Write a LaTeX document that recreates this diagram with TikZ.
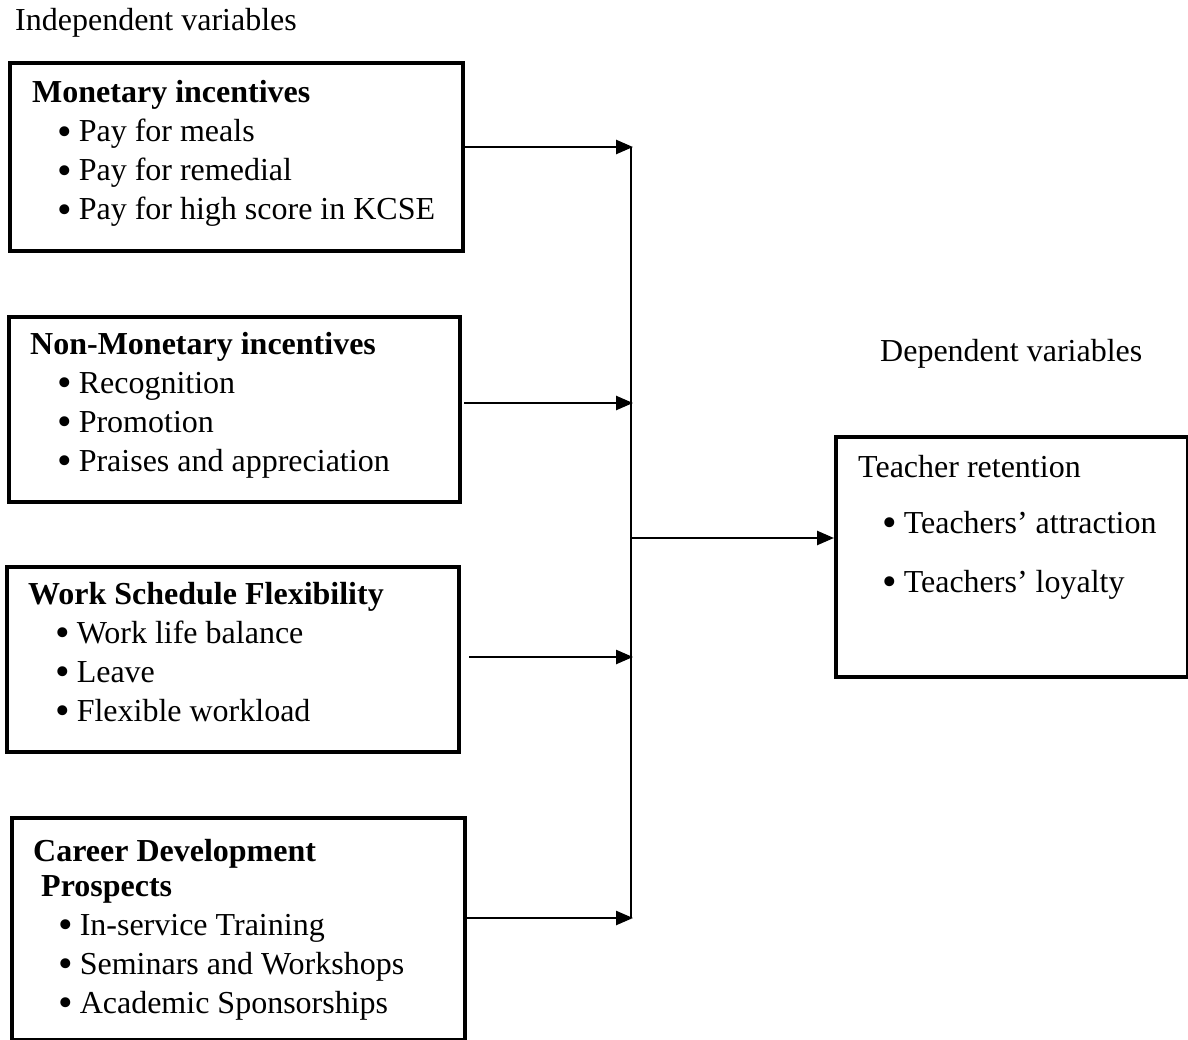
\documentclass[tikz,border=0pt]{standalone}
\usepackage{fontspec}
\setmainfont{Liberation Serif}
\usetikzlibrary{arrows.meta}

\newcommand{\itm}[1]{\raisebox{-3.5pt}{\scalebox{1.3}{\textbullet}}\hspace{7pt}#1}

\begin{document}
\begin{tikzpicture}[x=1pt,y=-1pt,>={Triangle[length=17pt,width=14pt]},
  box/.style={draw,line width=4pt,anchor=north west,inner sep=0pt},
  txt/.style={anchor=base west,align=left,inner sep=0pt,font=\fontsize{32}{39}\selectfont},
  link/.style={line width=2.5pt}]
\useasboundingbox (0,0) rectangle (1188,1040);

% Headings
\node[txt] (indep) at (15,31) {Independent variables};
\node[txt] (dep) at (880,362) {Dependent variables};

% Independent variable boxes
\node[box,minimum width=453pt,minimum height=188pt] (mon) at (8,61) {};
\node[box,minimum width=451pt,minimum height=185pt] (nonmon) at (7,315) {};
\node[box,minimum width=452pt,minimum height=185pt] (wsf) at (5,565) {};
\node[box,minimum width=453pt,minimum height=222pt] (cdp) at (10,816) {};

% Dependent variable box
\node[box,minimum width=352pt,minimum height=240pt] (ret) at (834,435) {};

% Box contents (placed at the baseline of the last line)
\node[txt] (montxt) at (32,220) {\textbf{Monetary incentives}\\
  \hspace*{25pt}\itm{Pay for meals}\\
  \hspace*{25pt}\itm{Pay for remedial}\\
  \hspace*{25pt}\itm{Pay for high score in KCSE}};
\node[txt] (nonmontxt) at (30,471) {\textbf{Non-Monetary incentives}\\
  \hspace*{27pt}\itm{Recognition}\\
  \hspace*{27pt}\itm{Promotion}\\
  \hspace*{27pt}\itm{Praises and appreciation}};
\node[txt] (wsftxt) at (28,721) {\textbf{Work Schedule Flexibility}\\
  \hspace*{27pt}\itm{Work life balance}\\
  \hspace*{27pt}\itm{Leave}\\
  \hspace*{27pt}\itm{Flexible workload}};
\node[txt] (cdptxt) at (33,1013) {\textbf{Career Development}\\[-4pt]
  \hspace*{8pt}\textbf{Prospects}\\
  \hspace*{25pt}\itm{In-service Training}\\
  \hspace*{25pt}\itm{Seminars and Workshops}\\
  \hspace*{25pt}\itm{Academic Sponsorships}};
\node[txt] (rettxt) at (858,592) {Teacher retention\\[17pt]
  \hspace*{24pt}\itm{Teachers’ attraction}\\[20pt]
  \hspace*{24pt}\itm{Teachers’ loyalty}};

% Collecting line
\coordinate (b1) at (631,147);
\coordinate (b2) at (631,403);
\coordinate (b3) at (631,657);
\coordinate (b4) at (631,918);
\coordinate (bm) at (631,538);
\draw[link] (b1) -- (b4);

% Arrows
\foreach \src/\k/\dx in {mon/1/0,nonmon/2/2,wsf/3/8,cdp/4/0} {
  \draw[link,->] ([xshift=\dx pt]\src.east |- b\k) -- ([xshift=2pt]b\k);
}
\draw[link,->] (bm) -- (ret.west |- bm);

\end{tikzpicture}
\end{document}
